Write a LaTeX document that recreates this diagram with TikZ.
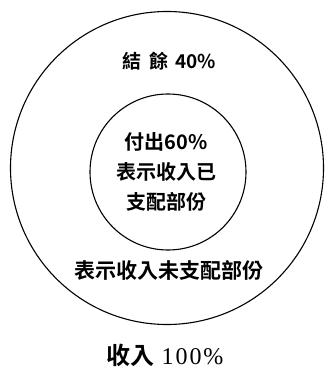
\documentclass[tikz,border=0pt]{standalone}
\usepackage{fontspec}
\newfontfamily\cjk{Noto Sans CJK TC}[BoldFont={Noto Sans CJK TC Bold}]
\setmainfont{Liberation Serif}
\begin{document}
\begin{tikzpicture}[x=1pt,y=-1pt,
  ring/.style={draw=black,line width=1.1pt},
  lbl/.style={text=black,inner sep=0pt,align=center}]
\useasboundingbox (0,0) rectangle (328,382);
\fill[white] (0,0) rectangle (328,382);
\node[ring,circle,minimum size=313pt,inner sep=0pt] (outer) at (167,168) {};
\node[ring,circle,minimum size=156pt,inner sep=0pt] (inner) at (168,172) {};
\node[lbl,font=\cjk\bfseries\fontsize{19}{22}\selectfont] (rest) at (169,61) {結\hspace{0.45em}餘\hspace{0.35em}40\%};
\node[lbl,font=\cjk\bfseries\fontsize{20}{30}\selectfont] (spent) at (166,172) {付出60\%\\表示收入已\\支配部份};
\node[lbl,font=\cjk\bfseries\fontsize{21}{24}\selectfont] (unspent) at (169,270) {表示收入未支配部份};
\node[lbl,font=\fontsize{24}{28}\selectfont] (income) at (165,355) {{\cjk\bfseries 收入}\hspace{0.3em}1\hspace{0.08em}0\hspace{0.08em}0\hspace{0.08em}\%};
\end{tikzpicture}
\end{document}
